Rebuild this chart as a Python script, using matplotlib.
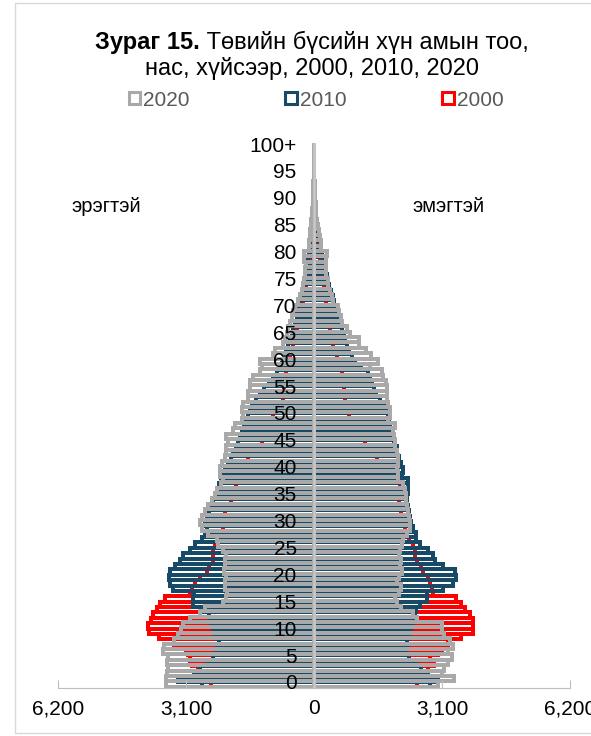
import numpy as np
import matplotlib.pyplot as plt
from matplotlib.patches import Patch, Rectangle

plt.rcParams['font.family'] = ['Liberation Sans', 'DejaVu Sans']

ages = np.arange(101)
age_labels = ["0", "5", "10", "15", "20", "25", "30", "35", "40", "45", "50",
              "55", "60", "65", "70", "75", "80", "85", "90", "95", "100+"]

# эрэгтэй (male)
male_2020 = [3580, 3580, 3550, 3530, 3560, 3530, 3660, 3640, 3380, 3300,
             3220, 3170, 3000, 2750, 2640, 2200, 2120, 2100, 2150, 2150,
             2130, 2180, 2160, 2150, 2120, 2200, 2320, 2350, 2570, 2720,
             2760, 2720, 2640, 2560, 2480, 2400, 2360, 2240, 2200, 2270,
             2270, 2230, 2150, 2120, 2120, 2080, 2120, 1960, 1920, 1750,
             1710, 1750, 1710, 1590, 1590, 1550, 1550, 1470, 1310, 1270,
             1310, 990, 950, 750, 700, 660, 620, 580, 540, 500,
             460, 390, 350, 300, 260, 240, 220, 210, 200, 230,
             240, 130, 120, 100, 90, 80, 60, 50, 40, 30,
             25, 20, 15, 12, 10, 8, 6, 5, 4, 3, 5]
male_2010 = [2720, 3290, 2900, 2750, 2600, 2450, 2400, 2350, 2300, 2350,
             2400, 2450, 2500, 2550, 2680, 2920, 2920, 2900, 3410, 3490,
             3500, 3490, 3370, 3240, 3170, 3000, 2880, 2720, 2650, 2600,
             2650, 2600, 2550, 2500, 2450, 2400, 2350, 2300, 2250, 2200,
             2150, 2080, 2000, 1950, 1900, 1850, 1800, 1750, 1700, 1650,
             1600, 1550, 1500, 1400, 1300, 1200, 1100, 1000, 900, 820,
             780, 720, 680, 620, 580, 540, 500, 460, 420, 400,
             420, 330, 300, 270, 240, 230, 200, 180, 160, 140,
             120, 100, 85, 70, 60, 50, 40, 30, 25, 20,
             15, 12, 10, 8, 7, 6, 5, 4, 3, 2, 5]
male_2000 = [2500, 2550, 2600, 2800, 2950, 3000, 3050, 3100, 3400, 3750,
             4000, 4020, 3950, 3900, 3800, 3720, 3600, 3000, 2950, 2880,
             2750, 2600, 2550, 2450, 2450, 2450, 2400, 2300, 2250, 2200,
             2100, 2080, 2150, 2100, 2000, 1960, 1950, 1900, 1850, 1800,
             1750, 1630, 1600, 1510, 1500, 1270, 1230, 1140, 1060, 1040,
             1000, 780, 780, 760, 750, 720, 700, 660, 680, 700,
             650, 580, 540, 500, 470, 440, 400, 380, 350, 330,
             300, 260, 240, 220, 200, 190, 160, 140, 120, 100,
             90, 70, 60, 50, 40, 30, 25, 20, 15, 10,
             8, 7, 6, 5, 4, 3, 3, 2, 2, 1, 5]

# эмэгтэй (female)
female_2020 = [3000, 3400, 3100, 3150, 3250, 3350, 3250, 3370, 3300, 3150,
               3100, 3100, 2500, 2400, 2100, 2000, 1960, 2050, 2100, 2000,
               2050, 2130, 2080, 2100, 2050, 2080, 2130, 2150, 2250, 2330,
               2330, 2300, 2280, 2250, 2240, 2240, 2200, 2150, 2040, 2040,
               2000, 2030, 2030, 2000, 1960, 1960, 1930, 1910, 1960, 1790,
               1830, 1830, 1790, 1760, 1760, 1760, 1740, 1670, 1640, 1350,
               1550, 1380, 1270, 1090, 1090, 870, 790, 670, 650, 600,
               580, 460, 430, 390, 350, 340, 290, 290, 280, 300,
               310, 180, 160, 140, 120, 100, 80, 60, 50, 40,
               30, 25, 20, 15, 12, 10, 8, 6, 5, 4, 8]
female_2010 = [2800, 3000, 2750, 2600, 2500, 2300, 2250, 2200, 2250, 2300,
               2300, 2350, 2400, 2450, 2480, 2560, 2730, 2730, 3130, 3370,
               3450, 3410, 3130, 2930, 2890, 2770, 2560, 2480, 2480, 2400,
               2350, 2330, 2300, 2280, 2260, 2260, 2270, 2280, 2280, 2120,
               2150, 2100, 2050, 2000, 2000, 1950, 1900, 1880, 1850, 1820,
               1800, 1750, 1700, 1600, 1500, 1450, 1400, 1350, 1300, 1150,
               1000, 920, 850, 800, 760, 720, 680, 640, 600, 560,
               520, 490, 450, 410, 370, 340, 310, 280, 260, 230,
               200, 170, 150, 120, 100, 90, 70, 55, 45, 35,
               25, 20, 16, 12, 10, 8, 6, 5, 4, 3, 5]
female_2000 = [2500, 2600, 2650, 2750, 2900, 2800, 3000, 3100, 3250, 3570,
               3850, 3850, 3850, 3770, 3650, 3570, 3450, 2890, 2850, 2800,
               2750, 2650, 2600, 2500, 2450, 2450, 2400, 2300, 2250, 2200,
               2150, 2150, 2100, 2100, 2050, 2050, 2050, 2080, 2000, 1960,
               1760, 1690, 1520, 1500, 1400, 1240, 1200, 1070, 1030, 910,
               850, 790, 780, 750, 730, 720, 700, 670, 680, 690,
               700, 550, 480, 460, 450, 420, 390, 380, 380, 370,
               370, 300, 270, 260, 250, 240, 200, 180, 160, 140,
               130, 100, 85, 70, 55, 45, 35, 28, 20, 15,
               12, 10, 8, 6, 5, 4, 3, 3, 2, 2, 6]

years = ["2020", "2010", "2000"]
colors = {"2020": "#A9A9A9", "2010": "#174A66", "2000": "#FF0000"}
series = {"2020": (male_2020, female_2020),
          "2010": (male_2010, female_2010),
          "2000": (male_2000, female_2000)}
# older series sit a touch lower, so their edges peek through the 2020 rows
shift = {"2020": 0.0, "2010": -0.2, "2000": -0.2}

fig = plt.figure(figsize=(5.91, 7.36), dpi=100)
ax = fig.add_axes([0.0981, 0.0652, 0.8663, 0.7408])

# draw 2000 first, 2020 last (on top)
for yr in ["2000", "2010", "2020"]:
    m, f = series[yr]
    for vals in (-np.array(m), np.array(f)):
        ax.barh(ages + shift[yr], vals, height=1.0, facecolor="none",
                edgecolor=colors[yr], linewidth=1.7, antialiased=False)

ax.axvline(0, color="#C8C8C8", linewidth=1.8, zorder=5)

ax.set_xlim(-6200, 6200)
ax.set_ylim(-0.75, 100.6)
ticks = [-6200, -3100, 0, 3100, 6200]
ax.set_xticks(ticks)
ax.set_xticklabels([f"{abs(v):,}" for v in ticks], fontsize=15)
ax.set_yticks([])
for s in ["left", "right", "top"]:
    ax.spines[s].set_visible(False)
ax.spines["bottom"].set_color("#BFBFBF")
ax.tick_params(axis="x", direction="in", length=6, color="#BFBFBF", pad=8)

for i, lab in enumerate(age_labels):
    ax.text(-420, i * 5, lab, ha="right", va="center", fontsize=15, zorder=6)

ax.text(-5040, 88.8, "эрэгтэй", ha="center", va="center", fontsize=14.5)
ax.text(3270, 88.8, "эмэгтэй", ha="center", va="center", fontsize=14.5)

# title: bold part + normal part on first line
fig.canvas.draw()
r = fig.canvas.get_renderer()
t1 = fig.text(0, 0, "Зураг 15.", fontsize=17, fontweight="bold")
t2 = fig.text(0, 0, " Төвийн бүсийн хүн амын тоо,", fontsize=17)
w1 = t1.get_window_extent(r).width / fig.bbox.width
w2 = t2.get_window_extent(r).width / fig.bbox.width
x0 = 0.528 - (w1 + w2) / 2
y1 = 1 - 42 / 736
t1.set_position((x0, y1))
t1.set_va("center")
t2.set_position((x0 + w1, y1))
t2.set_va("center")
fig.text(0.528, 1 - 69 / 736, "нас, хүйсээр, 2000, 2010, 2020",
         fontsize=17, ha="center", va="center")

handles = [Patch(facecolor="none", edgecolor=colors[y], linewidth=2.2) for y in years]
leg = fig.legend(handles, years, loc="center", bbox_to_anchor=(0.535, 1 - 100 / 736),
                 ncol=3, frameon=False, fontsize=15, handlelength=0.55,
                 handleheight=0.55, handletextpad=0.15, columnspacing=4.6)
for t in leg.get_texts():
    t.set_color("#595959")

fig.patches.append(Rectangle((15 / 591, 3 / 736), 1.0, 730 / 736,
                             transform=fig.transFigure, fill=False,
                             edgecolor="#D9D9D9", linewidth=1))

fig.savefig("out.png", dpi=100)
